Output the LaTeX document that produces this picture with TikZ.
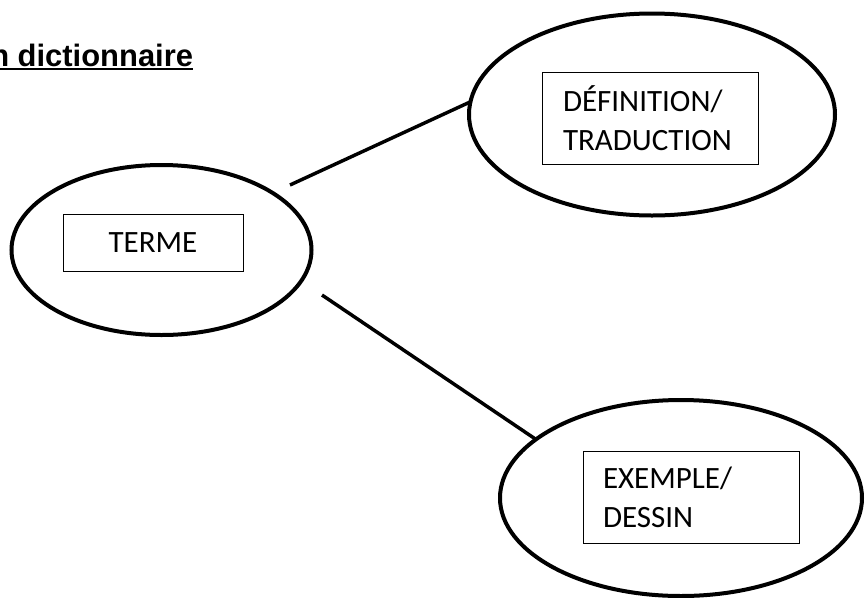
\documentclass[tikz,border=0pt]{standalone}
\usepackage{fontspec}
\setmainfont{Carlito}
\newfontfamily\titrefont{Liberation Sans}
\usetikzlibrary{shapes.geometric}
\begin{document}
\begin{tikzpicture}[x=0.75pt,y=-0.75pt,
  bulle/.style={draw,ellipse,line width=3pt,inner sep=0pt,outer sep=0pt},
  cadre/.style={draw,line width=0.6pt,inner sep=0pt,outer sep=0pt,
    font=\fontsize{23.25}{29.25}\selectfont},
  trait/.style={line width=2.6pt}]
\useasboundingbox (0,0) rectangle (865,597);
% titre
\node[anchor=base west,inner sep=0pt,
  font=\titrefont\bfseries\fontsize{23.2}{27}\selectfont] (titre) at (-10,66) {n dictionnaire};
\draw[line width=1.6pt] ([yshift=-2.4pt]titre.base west) -- ([yshift=-2.4pt]titre.base east);
% bulles
\node[bulle,minimum width=225pt,minimum height=127.5pt] (terme) at (161.5,250) {};
\node[cadre,minimum width=135pt,minimum height=42.75pt] (termecadre) at (153,242.5) {TERME};
\node[bulle,minimum width=274.5pt,minimum height=151.5pt] (defi) at (652,114.5) {};
\node[cadre,minimum width=162pt,minimum height=69pt,text width=130.5pt,align=left]
  (deficadre) at (650,118) {DÉFINITION/\\TRADUCTION};
\node[bulle,minimum width=271.5pt,minimum height=147pt] (exemple) at (681,498) {};
\node[cadre,minimum width=162pt,minimum height=69pt,text width=132pt,align=left]
  (exemplecadre) at (691,497) {EXEMPLE/\\DESSIN};
% traits
\coordinate (d1) at (290,185);
\coordinate (d2) at (322,295);
\draw[trait] (d1) -- (defi.176);
\draw[trait] (d2) -- (exemple.158);
\end{tikzpicture}
\end{document}
